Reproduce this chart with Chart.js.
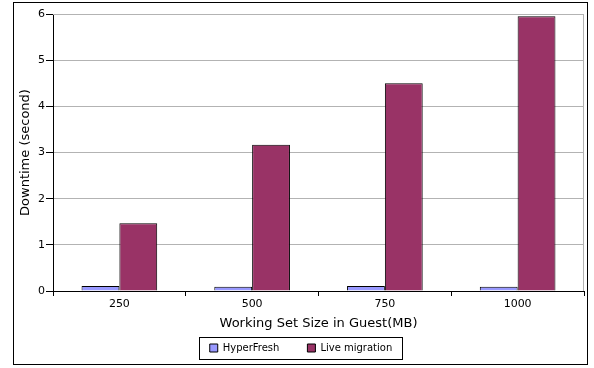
<!DOCTYPE html>
<html>
<head>
<meta charset="utf-8">
<script src="https://cdn.jsdelivr.net/npm/chart.js@4"></script>
<style>
  html, body { margin: 0; padding: 0; background: #fff; }
  #wrap { position: absolute; left: 0; top: 0; width: 594px; height: 368px; }
</style>
</head>
<body>
<div id="wrap"><canvas id="myChart" width="594" height="368"></canvas></div>
<script>
var sizes = ["250", "500", "750", "1000"];
var hyperfresh = [0.11, 0.09, 0.11, 0.09];
var live_migration = [1.47, 3.17, 4.5, 5.95];

var legend_gap = 28; // space between the two legend entries
var legend_height = 31;

// outer frame, plot frame, and a box round the legend
const framePlugin = {
	id: "frames",
	beforeLayout(chart) {
		// keep the legend short even with wide spacing between entries
		const lg = chart.legend;
		if (lg && !lg._shortFit) {
			const fit = lg.fit.bind(lg);
			lg.fit = function () {
				fit();
				this.height = legend_height;
			};
			lg._shortFit = true;
		}
	},
	beforeDraw(chart) {
		const lg = chart.legend;
		lg._shift = legend_gap - 10;
		lg.top -= lg._shift;
	},
	beforeDatasetsDraw(chart) {
		const c = chart.ctx;
		const a = chart.chartArea;
		c.save();
		c.strokeStyle = "#b3b3b3";
		c.lineWidth = 1;
		c.beginPath();
		c.moveTo(a.left, a.top + 0.5);
		c.lineTo(a.right - 0.5, a.top + 0.5);
		c.lineTo(a.right - 0.5, a.bottom);
		c.stroke();
		c.restore();
	},
	afterDraw(chart) {
		const lg = chart.legend;
		lg.top += lg._shift;
		const c = chart.ctx;
		c.save();
		c.strokeStyle = "#000";
		c.lineWidth = 1;
		c.strokeRect(13.5, 2.5, 574, 362);
		c.strokeRect(199.5, 337.5, 203, 22);
		c.restore();
	}
};

const data = {
	labels: sizes,
	datasets: [
		{
			label: "HyperFresh",
			backgroundColor: "#9999ff",
			borderColor: "#000",
			borderWidth: 1,
			data: hyperfresh,
		},
		{
			label: "Live migration",
			backgroundColor: "#993366",
			borderColor: "#000",
			borderWidth: 1,
			data: live_migration,
		},
	],
};

const config = {
	type: "bar",
	data: data,
	plugins: [framePlugin],
	options: {
		responsive: false,
		animation: false,
		layout: { padding: { left: 18, right: 10, top: 14, bottom: 4 } },
		datasets: { bar: { categoryPercentage: 0.57, barPercentage: 1 } },
		plugins: {
			tooltip: { enabled: false },
			legend: {
				position: "bottom",
				labels: {
					font: { family: "DejaVu Sans", size: 10 },
					color: "#000",
					boxWidth: 8,
					boxHeight: 8,
					padding: legend_gap,
				},
			},
		},
		scales: {
			y: {
				min: 0,
				max: 6,
				afterFit: function (s) { s.width = 35; },
				ticks: {
					stepSize: 1,
					color: "#000",
					font: { family: "DejaVu Sans", size: 11 },
					padding: 1,
				},
				grid: { color: "#b3b3b3", tickColor: "#000", tickLength: 7 },
				border: { color: "#000", width: 1 },
				title: {
					display: true,
					text: "Downtime (second)",
					color: "#000",
					font: { family: "DejaVu Sans", size: 13 },
					padding: 0,
				},
			},
			x: {
				afterFit: function (s) { s.height = 42; },
				ticks: {
					color: "#000",
					font: { family: "DejaVu Sans", size: 11 },
					padding: 2,
				},
				grid: { drawOnChartArea: false, color: "#000", tickLength: 5 },
				border: { color: "#000", width: 1 },
				title: {
					display: true,
					text: "Working Set Size in Guest(MB)",
					color: "#000",
					font: { family: "DejaVu Sans", size: 13 },
					padding: 2,
				},
			},
		},
	},
};

const myChart = new Chart(document.getElementById("myChart"), config);
</script>
</body>
</html>
